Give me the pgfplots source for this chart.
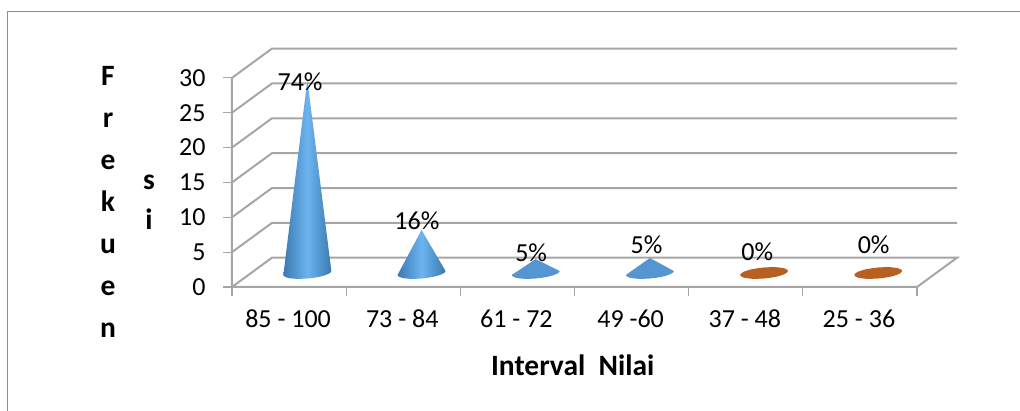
\documentclass[border=0pt]{standalone}
\usepackage{fontspec}
\setmainfont{Carlito}
\usepackage{pgfplots}
\pgfplotsset{compat=1.18}
\definecolor{gridc}{HTML}{A6A6A6}
\definecolor{framec}{HTML}{8C8C8C}
\definecolor{coned}{HTML}{3B7AB0}
\definecolor{conel}{HTML}{6CB4F0}
\definecolor{coneflat}{HTML}{5596D2}
\definecolor{zeroc}{HTML}{B85F22}
\pgfplotstableread{
x y label
0.596 29.4 74\%
1.62 9.47 16\%
2.62 4.88 5\%
3.63 6.03 5\%
4.60 5.02 0\%
5.62 6.03 0\%
}\labels
\begin{document}
\begin{tikzpicture}[x=1pt,y=1pt]
\path[use as bounding box] (-232,-124) rectangle (788,287);
\draw[framec,line width=1pt] (-224,-124) -- (-224,275) -- (788,275);
\begin{axis}[
    at={(0,0)}, anchor=south west, scale only axis,
    width=725pt, height=238.4pt,
    xmin=0, xmax=6.35, ymin=0, ymax=34.2,
    clip=false,
    axis line style={draw=none},
    tick pos=left, tick align=outside,
    major tick length=9pt,
    tick style={gridc,line width=1.2pt},
    xtick={0,1,2,3,4,5,6},
    x tick label as interval,
    xticklabels={85 - 100,73 - 84,61 - 72,49 -60,37 - 48,25 - 36},
    ytick={0,5,10,15,20,25,30},
    /pgf/number format/assume math mode=true,
    tick label style={font=\fontsize{26}{31}\selectfont},
    yticklabel style={xshift=-14pt},
    xticklabel style={yshift=-10pt,xshift=-1pt},
    xlabel={Interval\ \ Nilai},
    x label style={at={(axis description cs:0.470,-0.327)},anchor=center,font=\fontsize{29.5}{35}\selectfont\bfseries},
    ylabel={F\\r\\e\\k\\u\\e\\n},
    y label style={at={(axis description cs:-0.171,0.357)},anchor=center,rotate=-90,align=center,font=\fontsize{29.5}{42}\selectfont\bfseries},
    no markers,
]
% walls and floor
\pgfplotsinvokeforeach{5,10,15,20,25,30}{
    \addplot[gridc,line width=2pt] coordinates {(0,#1) (0.35,#1+4.2) (6.35,#1+4.2)};
}
\addplot[gridc,line width=2pt] coordinates {(0,30) (0,0) (6,0) (6.35,4.2) (0.35,4.2) (0,0)};

% cones
\addplot[draw=none,shade,left color=coned,right color=coned,middle color=conel] coordinates {
    (0.660,29.7) (0.870,2.296) (0.863,2.082) (0.842,1.863) (0.809,1.654) (0.765,1.469) (0.714,1.321) (0.660,1.220)
    (0.606,1.173) (0.555,1.182) (0.511,1.248) (0.478,1.366) (0.457,1.528) (0.450,1.722)} -- cycle;
\addplot[draw=none,shade,left color=coned,right color=coned,middle color=conel] coordinates {
    (1.660,8.18) (1.870,2.296) (1.863,2.082) (1.842,1.863) (1.809,1.654) (1.765,1.469) (1.714,1.321) (1.660,1.220)
    (1.606,1.173) (1.555,1.182) (1.511,1.248) (1.478,1.366) (1.457,1.528) (1.450,1.722)} -- cycle;
\addplot[draw=none,fill=coneflat] coordinates {
    (2.660,4.0) (2.870,2.296) (2.863,2.082) (2.842,1.863) (2.809,1.654) (2.765,1.469) (2.714,1.321) (2.660,1.220)
    (2.606,1.173) (2.555,1.182) (2.511,1.248) (2.478,1.366) (2.457,1.528) (2.450,1.722)} -- cycle;
\addplot[draw=none,fill=coneflat] coordinates {
    (3.660,4.16) (3.870,2.296) (3.863,2.082) (3.842,1.863) (3.809,1.654) (3.765,1.469) (3.714,1.321) (3.660,1.220)
    (3.606,1.173) (3.555,1.182) (3.511,1.248) (3.478,1.366) (3.457,1.528) (3.450,1.722)} -- cycle;

% zero values, only the base is left
\addplot[draw=none,fill=zeroc,smooth cycle] coordinates {
    (4.870,2.296) (4.842,1.863) (4.765,1.469) (4.660,1.220) (4.555,1.182) (4.478,1.366) (4.450,1.722)
    (4.478,2.155) (4.555,2.548) (4.660,2.798) (4.765,2.836) (4.842,2.652)};
\addplot[draw=none,fill=zeroc,smooth cycle] coordinates {
    (5.870,2.296) (5.842,1.863) (5.765,1.469) (5.660,1.220) (5.555,1.182) (5.478,1.366) (5.450,1.722)
    (5.478,2.155) (5.555,2.548) (5.660,2.798) (5.765,2.836) (5.842,2.652)};

% percentage labels
\addplot[draw=none,nodes near coords,point meta=explicit symbolic,
    nodes near coords style={anchor=center,font=\fontsize{26}{31}\selectfont,text=black}]
    table[x=x,y=y,meta=label] {\labels};

\node[anchor=center,align=center,font=\fontsize{29.5}{40}\selectfont\bfseries]
    at (axis description cs:-0.1145,0.357) {s\\i};
\end{axis}
\end{tikzpicture}
\end{document}
